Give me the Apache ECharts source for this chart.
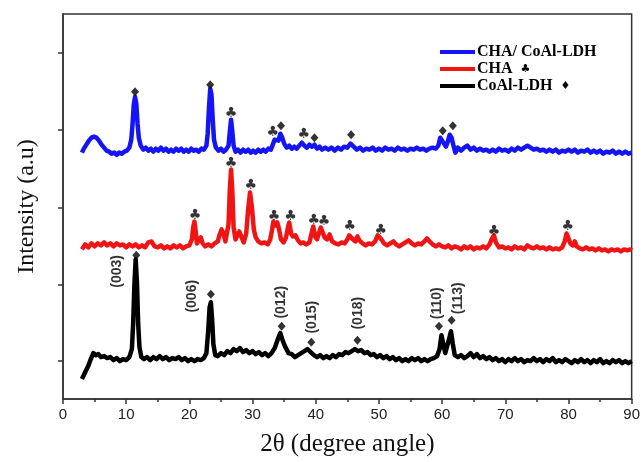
<!DOCTYPE html>
<html>
<head>
<meta charset="utf-8">
<script src="https://cdn.jsdelivr.net/npm/echarts@6/dist/echarts.min.js"></script>
<style>
  html, body { margin: 0; padding: 0; background: #fff; }
  #chart { width: 643px; height: 462px; }
</style>
</head>
<body>
<div id="chart"></div>
<script>
// XRD patterns: [2θ, intensity] (stacked, arbitrary units)
const ldhPattern = [
  [3.0,20],[3.3,24],[3.6,28],[4.0,33],[4.4,40],[4.8,46],[5.2,44],[5.6,45],[6.0,42],[6.5,43],
  [7.0,41],[7.5,42],[8.0,39],[8.5,41],[9.0,38],[9.5,40],[10.0,39],[10.5,42],[10.9,50],[11.1,75],
  [11.3,115],[11.5,140],[11.7,118],[11.9,75],[12.1,52],[12.4,42],[12.8,40],[13.3,42],[13.8,39],[14.3,42],
  [14.8,40],[15.3,43],[15.8,40],[16.3,42],[16.8,39],[17.3,41],[17.8,40],[18.3,42],[18.8,39],[19.3,41],
  [19.8,38],[20.3,40],[20.8,38],[21.3,40],[21.8,39],[22.3,41],[22.7,46],[23.0,70],[23.2,92],[23.4,97],
  [23.6,80],[23.8,55],[24.1,44],[24.5,43],[25.0,46],[25.5,44],[26.0,48],[26.5,46],[27.0,50],[27.5,48],
  [28.0,51],[28.5,47],[29.0,49],[29.5,46],[30.0,48],[30.5,45],[31.0,47],[31.5,44],[32.0,46],[32.5,43],
  [33.0,46],[33.5,51],[34.0,60],[34.4,66],[34.8,58],[35.2,52],[35.7,46],[36.2,45],[36.7,42],[37.2,44],
  [37.7,46],[38.2,48],[38.7,50],[39.2,47],[39.7,44],[40.2,42],[40.7,44],[41.2,41],[41.7,43],[42.2,41],
  [42.7,44],[43.2,42],[43.7,45],[44.2,44],[44.7,47],[45.2,46],[45.7,48],[46.2,50],[46.7,48],[47.2,49],
  [47.7,46],[48.2,47],[48.7,44],[49.2,45],[49.7,42],[50.2,44],[50.7,41],[51.2,43],[51.7,40],[52.2,42],
  [52.7,39],[53.2,41],[53.7,38],[54.2,40],[54.7,38],[55.2,41],[55.7,39],[56.2,41],[56.7,38],[57.2,40],
  [57.7,38],[58.2,40],[58.7,41],[59.2,43],[59.6,50],[59.9,64],[60.2,62],[60.5,46],[60.8,48],[61.1,60],
  [61.4,68],[61.7,55],[62.0,44],[62.5,42],[63.0,44],[63.5,41],[64.0,43],[64.5,46],[65.0,42],[65.5,45],
  [66.0,41],[66.5,43],[67.0,40],[67.5,42],[68.0,39],[68.5,41],[69.0,38],[69.5,40],[70.0,37],[70.5,40],
  [71.0,38],[71.5,41],[72.0,38],[72.5,40],[73.0,37],[73.5,39],[74.0,38],[74.5,41],[75.0,38],[75.5,40],
  [76.0,37],[76.5,40],[77.0,38],[77.5,41],[78.0,37],[78.5,39],[79.0,37],[79.5,40],[80.0,38],[80.5,36],
  [81.0,39],[81.5,37],[82.0,40],[82.5,37],[83.0,39],[83.5,36],[84.0,39],[84.5,37],[85.0,40],[85.5,36],
  [86.0,38],[86.5,36],[87.0,39],[87.5,37],[88.0,39],[88.5,36],[89.0,38],[89.5,36],[90.0,38]
];

const chaPattern = [
  [3.0,150],[3.5,155],[4.0,152],[4.5,156],[5.0,153],[5.5,156],[6.0,154],[6.5,157],[7.0,154],[7.5,156],
  [8.0,153],[8.5,156],[9.0,154],[9.5,155],[10.0,152],[10.5,155],[11.0,153],[11.5,155],[12.0,152],[12.5,154],
  [13.0,152],[13.5,157],[14.0,158],[14.5,153],[15.0,152],[15.5,154],[16.0,151],[16.5,153],[17.0,151],[17.5,154],
  [18.0,152],[18.5,154],[19.0,151],[19.5,153],[20.0,154],[20.4,160],[20.6,172],[20.8,178],[21.0,168],[21.2,156],
  [21.5,157],[21.8,162],[22.1,156],[22.5,153],[23.0,155],[23.5,153],[24.0,156],[24.5,158],[24.8,165],[25.1,170],
  [25.4,166],[25.7,158],[26.0,160],[26.2,175],[26.4,210],[26.6,230],[26.8,208],[27.0,172],[27.3,160],[27.6,164],
  [27.9,168],[28.2,163],[28.6,157],[29.0,166],[29.3,190],[29.6,207],[29.9,192],[30.2,170],[30.5,162],[30.9,158],
  [31.4,156],[31.9,157],[32.4,155],[32.8,160],[33.1,170],[33.3,178],[33.6,174],[33.9,177],[34.2,170],[34.5,160],
  [34.9,157],[35.3,162],[35.6,172],[35.8,177],[36.1,166],[36.4,163],[36.8,164],[37.2,159],[37.6,156],[38.0,157],
  [38.5,155],[39.0,157],[39.3,165],[39.6,173],[39.9,163],[40.2,160],[40.5,166],[40.8,172],[41.1,170],[41.4,162],
  [41.8,160],[42.2,165],[42.6,158],[43.1,156],[43.6,155],[44.1,157],[44.6,156],[45.0,160],[45.3,164],[45.6,166],
  [45.9,160],[46.3,158],[46.6,163],[46.9,159],[47.4,156],[47.9,154],[48.4,156],[48.9,155],[49.4,158],[49.8,164],
  [50.1,166],[50.4,160],[50.8,156],[51.3,154],[51.8,156],[52.3,158],[52.7,155],[53.2,153],[53.7,155],[54.2,157],
  [54.7,159],[55.2,156],[55.7,154],[56.2,156],[56.7,155],[57.2,158],[57.6,161],[58.0,158],[58.5,155],[59.0,153],
  [59.5,155],[60.0,153],[60.5,152],[61.0,154],[61.5,151],[62.0,153],[62.5,152],[63.0,150],[63.5,153],[64.0,151],
  [64.5,153],[65.0,150],[65.5,152],[66.0,151],[66.5,153],[67.0,151],[67.5,155],[67.9,161],[68.2,164],[68.5,157],
  [69.0,152],[69.5,153],[70.0,151],[70.5,152],[71.0,150],[71.5,153],[72.0,151],[72.5,152],[73.0,150],[73.5,154],
  [74.0,152],[74.5,151],[75.0,153],[75.5,151],[76.0,152],[76.5,150],[77.0,152],[77.5,150],[78.0,151],[78.5,150],
  [79.0,152],[79.4,158],[79.7,166],[80.0,164],[80.3,156],[80.7,154],[81.0,158],[81.3,153],[81.8,151],[82.3,150],
  [82.8,152],[83.3,150],[83.8,151],[84.3,149],[84.8,151],[85.3,149],[85.8,150],[86.3,148],[86.8,150],[87.3,149],
  [87.8,150],[88.3,148],[88.8,150],[89.3,149],[89.8,150],[90.0,149]
];

const compositePattern = [
  [3.0,247],[3.3,251],[3.7,255],[4.1,259],[4.5,262],[4.9,263],[5.3,262],[5.7,259],[6.1,255],[6.5,252],
  [6.9,249],[7.3,248],[7.7,246],[8.1,247],[8.5,245],[8.9,247],[9.3,246],[9.7,248],[10.1,249],[10.5,252],
  [10.8,260],[11.0,275],[11.2,295],[11.4,303],[11.6,296],[11.8,276],[12.0,262],[12.3,254],[12.7,250],[13.1,252],
  [13.5,249],[13.9,251],[14.3,248],[14.7,251],[15.1,249],[15.5,252],[15.9,249],[16.3,251],[16.7,248],[17.1,250],
  [17.5,248],[17.9,251],[18.3,249],[18.7,251],[19.1,248],[19.5,250],[19.9,248],[20.3,251],[20.7,249],[21.1,250],
  [21.5,248],[21.9,251],[22.3,250],[22.7,254],[22.9,266],[23.1,292],[23.3,311],[23.5,305],[23.7,280],[23.9,260],
  [24.2,252],[24.6,249],[25.0,251],[25.4,248],[25.8,250],[26.2,254],[26.4,268],[26.6,280],[26.8,268],[27.0,254],
  [27.3,248],[27.7,250],[28.1,247],[28.5,250],[28.9,248],[29.3,250],[29.7,247],[30.1,249],[30.5,247],[30.9,250],
  [31.3,248],[31.7,250],[32.1,248],[32.5,251],[32.9,250],[33.2,255],[33.5,260],[33.8,262],[34.1,259],[34.4,266],
  [34.7,262],[35.0,256],[35.4,252],[35.8,254],[36.2,251],[36.6,253],[37.0,251],[37.4,254],[37.8,257],[38.2,254],
  [38.6,252],[39.0,255],[39.4,253],[39.8,255],[40.2,251],[40.6,253],[41.0,250],[41.5,252],[42.0,250],[42.5,252],
  [43.0,249],[43.5,252],[44.0,250],[44.5,253],[45.0,252],[45.5,256],[46.0,253],[46.5,250],[47.0,252],[47.5,249],
  [48.0,251],[48.5,250],[49.0,252],[49.5,249],[50.0,251],[50.5,249],[51.0,252],[51.5,250],[52.0,251],[52.5,249],
  [53.0,252],[53.5,250],[54.0,251],[54.5,249],[55.0,251],[55.5,250],[56.0,252],[56.5,250],[57.0,251],[57.5,249],
  [58.0,251],[58.5,252],[59.0,251],[59.4,254],[59.7,262],[60.0,264],[60.3,256],[60.6,253],[60.9,258],[61.2,265],
  [61.5,262],[61.8,254],[62.1,247],[62.5,252],[63.0,249],[63.5,252],[64.0,254],[64.5,250],[65.0,252],[65.5,249],
  [66.0,251],[66.5,249],[67.0,250],[67.5,248],[68.0,250],[68.5,248],[69.0,251],[69.5,249],[70.0,250],[70.5,248],
  [71.0,251],[71.5,249],[72.0,252],[72.5,250],[73.0,252],[73.5,254],[74.0,252],[74.5,250],[75.0,251],[75.5,249],
  [76.0,250],[76.5,248],[77.0,250],[77.5,248],[78.0,250],[78.5,247],[79.0,249],[79.5,248],[80.0,250],[80.5,248],
  [81.0,250],[81.5,247],[82.0,249],[82.5,248],[83.0,250],[83.5,247],[84.0,249],[84.5,247],[85.0,249],[85.5,246],
  [86.0,248],[86.5,247],[87.0,249],[87.5,246],[88.0,248],[88.5,246],[89.0,248],[89.5,246],[90.0,247]
];

// Phase markers placed above reflections
const ldhDiamonds = [[11.6,144],[23.4,105],[34.6,73],[39.3,57],[46.6,59],[59.5,73],[61.5,79]];
const compositeDiamonds = [[11.4,308],[23.3,315],[34.5,274],[39.8,262],[45.6,265],[60.1,269],[61.7,274]];
const compositeClubs = [[26.6,286],[33.2,267],[38.1,265]];
const chaClubs = [[20.9,184],[26.6,236],[29.7,214],[33.4,183],[36.0,183],[39.7,179],[41.3,178],
                  [45.4,173],[50.3,169],[68.2,168],[79.9,173]];

// Miller indices of the LDH reflections
const hklAngles  = [8.5, 20.4, 34.6, 39.5, 46.7, 59.2, 62.6];
const hklHeights = [128, 103, 97, 82, 86, 96, 101];
const hklNames   = ['(003)', '(006)', '(012)', '(015)', '(018)', '(110)', '(113)'];

const xTicks = [0, 90, 10];          // min, max, interval
const yTickValues = [38, 115, 192, 270, 347];

const seriesNames = ['CHA/ CoAl-LDH', 'CHA', 'CoAl-LDH'];
const seriesColors = ['#1414f5', '#f01414', '#000000'];
const legendSymbols = { 'CHA/ CoAl-LDH': '', 'CHA': '♣', 'CoAl-LDH': '♦' };

const chart = echarts.init(document.getElementById('chart'), null, { renderer: 'canvas' });

const axisColor = '#333';
const serif = '"Liberation Serif", "Times New Roman", serif';
const sans = '"Liberation Sans", Arial, sans-serif';

function lineSeries(name, data, color) {
  return {
    name, type: 'line', data, showSymbol: false, symbol: 'none',
    lineStyle: { color, width: 4.5, join: 'round' }, itemStyle: { color },
    z: 2, silent: true, animation: false
  };
}

function diamondSeries(data) {
  return {
    type: 'scatter', data, symbol: 'diamond', symbolSize: [8, 9],
    itemStyle: { color: '#000' }, z: 5, silent: true, animation: false
  };
}

function clubSeries(data) {
  return {
    type: 'scatter', data, symbolSize: 0,
    label: {
      show: true, position: 'inside', formatter: '♣',
      fontSize: 14, color: '#000', fontFamily: '"DejaVu Sans", sans-serif'
    },
    z: 5, silent: true, animation: false
  };
}

const hklData = hklAngles.map((a, i) => ({ value: [a, hklHeights[i]], name: hklNames[i] }));

chart.setOption({
  backgroundColor: '#fff',
  animation: false,
  grid: {
    left: 63, right: 11, top: 14, bottom: 62,
    show: true, borderColor: axisColor, borderWidth: 1.5, backgroundColor: 'transparent'
  },
  legend: {
    data: seriesNames,
    orient: 'vertical',
    left: 435, top: 39,
    icon: 'rect', itemWidth: 35, itemHeight: 4, itemGap: 1,
    selectedMode: false,
    formatter: name => legendSymbols[name] ? name + '  {s|' + legendSymbols[name] + '}' : name,
    textStyle: {
      fontFamily: serif, fontWeight: 'bold', fontSize: 16, color: '#000', lineHeight: 16,
      padding: [0, 0, 0, -3],
      rich: { s: { fontFamily: '"DejaVu Sans", sans-serif', fontSize: 11, color: '#000' } }
    }
  },
  xAxis: {
    type: 'value', min: xTicks[0], max: xTicks[1], interval: xTicks[2],
    name: '2θ (degree angle)', nameLocation: 'middle', nameGap: 33,
    nameTextStyle: { fontFamily: serif, fontSize: 25, color: '#111' },
    axisLine: { show: true, onZero: false, lineStyle: { color: axisColor, width: 1.5 } },
    axisTick: { show: true, inside: false, length: 5, lineStyle: { color: axisColor, width: 1.5 } },
    minorTick: { show: true, splitNumber: 2, length: 3, lineStyle: { color: axisColor, width: 1.5 } },
    axisLabel: { fontFamily: sans, fontSize: 15, color: '#222', margin: 8 },
    splitLine: { show: false }
  },
  yAxis: {
    type: 'value', min: 0, max: 386,
    name: 'Intensity (a.u)', nameLocation: 'middle', nameGap: 24,
    nameTextStyle: { fontFamily: serif, fontSize: 24, color: '#111' },
    axisLine: { show: true, onZero: false, lineStyle: { color: axisColor, width: 1.5 } },
    axisTick: { show: true, inside: false, length: 5, customValues: yTickValues,
                lineStyle: { color: axisColor, width: 1.5 } },
    axisLabel: { show: false },
    splitLine: { show: false }
  },
  series: [
    lineSeries(seriesNames[0], compositePattern, seriesColors[0]),
    lineSeries(seriesNames[1], chaPattern, seriesColors[1]),
    lineSeries(seriesNames[2], ldhPattern, seriesColors[2]),
    diamondSeries(ldhDiamonds),
    diamondSeries(compositeDiamonds),
    clubSeries(compositeClubs),
    clubSeries(chaClubs),
    {
      type: 'scatter', data: hklData, symbolSize: 0,
      label: {
        show: true, position: 'inside', rotate: 90, formatter: p => p.name,
        fontFamily: sans, fontWeight: 'bold', fontSize: 14, color: '#000'
      },
      z: 5, silent: true, animation: false
    }
  ]
});
</script>
</body>
</html>
